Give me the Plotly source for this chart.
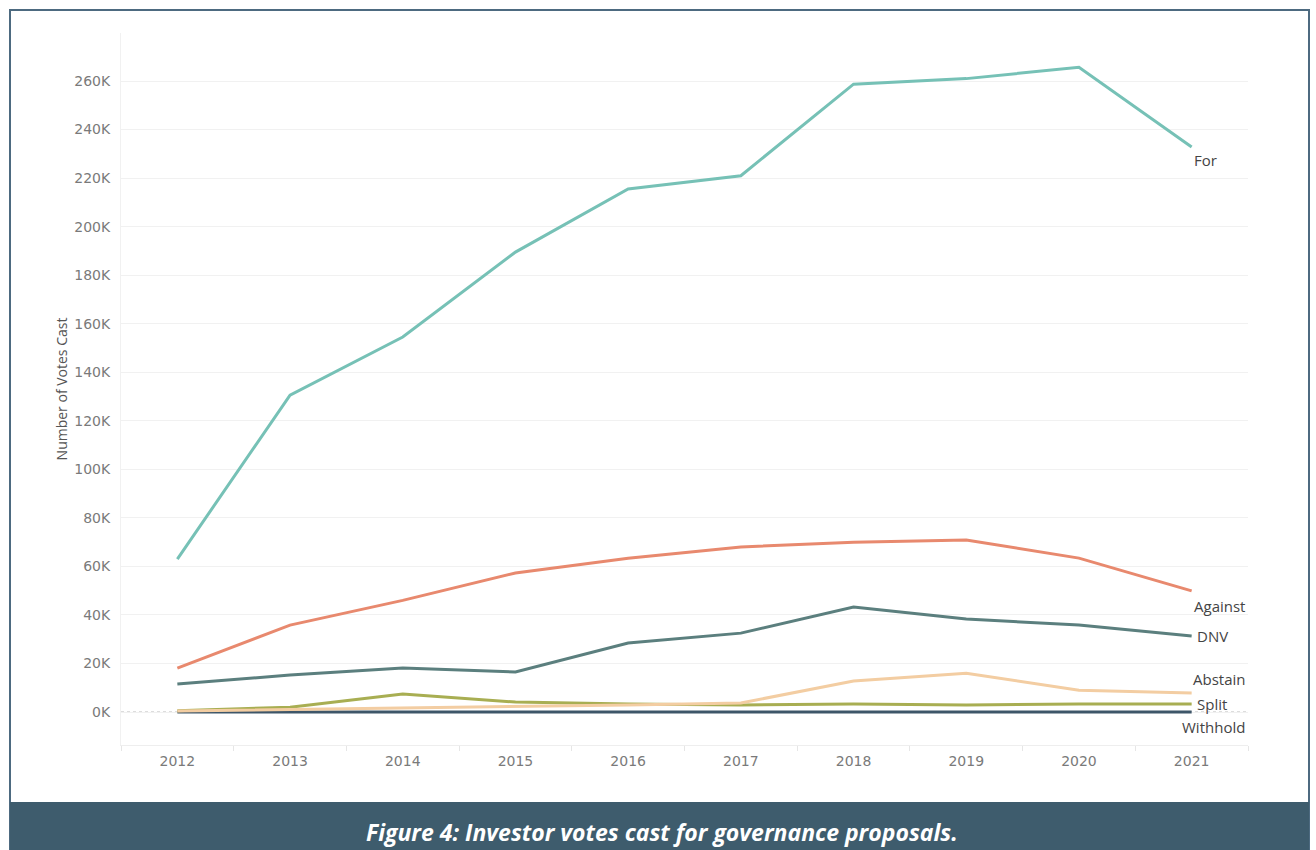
import plotly.graph_objects as go

# Votes cast on governance proposals, by vote type (thousands)
years = [2012, 2013, 2014, 2015, 2016, 2017, 2018, 2019, 2020, 2021]
votes_for = [63.0, 130.6, 154.5, 189.5, 215.5, 221.0, 258.7, 261.0, 265.7, 232.8]
votes_against = [18.1, 35.8, 46.0, 57.3, 63.4, 68.0, 70.0, 70.9, 63.4, 49.9]
votes_dnv = [11.5, 15.2, 18.1, 16.5, 28.4, 32.5, 43.3, 38.3, 35.8, 31.3]
votes_abstain = [0.4, 1.0, 1.5, 2.0, 2.9, 3.7, 12.8, 16.0, 9.0, 7.8]
votes_split = [0.5, 2.0, 7.4, 4.1, 3.3, 2.9, 3.3, 2.9, 3.3, 3.3]
votes_withhold = [0.0, 0.0, 0.0, 0.0, 0.0, 0.0, 0.0, 0.0, 0.0, 0.0]

y_ticks = list(range(0, 261, 20))
y_tick_labels = [f"{v}K" for v in y_ticks]
caption = "Figure 4: Investor votes cast for governance proposals."

W, H = 1316, 850
L, R, T, B = 121, 68, 33, 105
PW, PH = W - L - R, H - T - B

TICK_FONT = dict(family="DejaVu Sans, Verdana, sans-serif", size=14, color="#7a7a7a")
LABEL_FONT = dict(family="Open Sans, Arial, sans-serif", size=15, color="#444")


def px(x):
    return (x - L) / PW


def py(y):
    return (H - B - y) / PH


series = [
    ("Withhold", votes_withhold, "#3e5669", dict(xanchor="right", xshift=55, yshift=-15)),
    ("Split", votes_split, "#a8ae52", dict(xanchor="left", xshift=3, yshift=0)),
    ("Abstain", votes_abstain, "#f3cda2", dict(xanchor="right", xshift=55, yshift=14)),
    ("DNV", votes_dnv, "#5b7f7e", dict(xanchor="left", xshift=3, yshift=0)),
    ("Against", votes_against, "#e8896e", dict(xanchor="right", xshift=55, yshift=-15)),
    ("For", votes_for, "#76c1b6", dict(xanchor="left", xshift=0, yshift=-13)),
]

fig = go.Figure()
annotations = []
for name, vals, color, pos in series:
    fig.add_trace(go.Scatter(
        x=years, y=vals, mode="lines", name=name,
        line=dict(color=color, width=3),
        hovertemplate="%{x}: %{y:.1f}K<extra>" + name + "</extra>",
    ))
    annotations.append(dict(
        x=years[-1], y=vals[-1], xref="x", yref="y", text=name,
        showarrow=False, yanchor="middle", font=LABEL_FONT, **pos,
    ))

annotations.append(dict(
    x=0.5 * (px(10) + px(1309)) + 3 / PW, y=py(832),
    xref="paper", yref="paper", text="<b><i>" + caption + "</i></b>",
    showarrow=False, xanchor="center", yanchor="middle",
    font=dict(family="Open Sans, Arial, sans-serif", size=23, color="white"),
))

shapes = [
    # outer frame
    dict(type="rect", xref="paper", yref="paper",
         x0=px(10), x1=px(1309), y0=py(850), y1=py(10),
         line=dict(color="#4d6a80", width=2), fillcolor="rgba(0,0,0,0)", layer="below"),
    # caption band
    dict(type="rect", xref="paper", yref="paper",
         x0=px(10), x1=px(1309), y0=py(851), y1=py(802),
         line=dict(width=0), fillcolor="#3e5c6d", layer="above"),
    # zero reference line
    dict(type="line", xref="paper", yref="y", x0=0, x1=1, y0=0, y1=0,
         line=dict(color="#bbbbbb", width=1, dash="dot"), layer="below"),
]

fig.update_layout(
    width=W, height=H,
    margin=dict(l=L, r=R, t=T, b=B),
    paper_bgcolor="white", plot_bgcolor="white",
    showlegend=False,
    annotations=annotations,
    shapes=shapes,
    font=dict(family="Open Sans, Arial, sans-serif", color="#777"),
)

fig.update_xaxes(
    range=[2011.5, 2021.5],
    tickvals=years, ticktext=[str(y) for y in years],
    ticks="outside", ticklen=3, tickcolor="rgba(0,0,0,0)",
    showgrid=False, zeroline=False,
    showline=True, linecolor="#eeeeee", linewidth=1,
    tickfont=TICK_FONT,
    minor=dict(tick0=2011.5, dtick=1, ticks="outside", ticklen=5,
               tickcolor="#e6e6e6", showgrid=False),
)

fig.update_yaxes(
    range=[-13.6, 279.8],
    tickvals=y_ticks, ticktext=y_tick_labels,
    ticks="outside", ticklen=7, tickcolor="rgba(0,0,0,0)",
    showgrid=True, gridcolor="#f1f1f1", gridwidth=1,
    zeroline=False, showline=True, linecolor="#f1f1f1", linewidth=1,
    tickfont=TICK_FONT,
    title=dict(text="Number of Votes Cast", standoff=3,
               font=dict(size=14, color="#555")),
)

fig.write_html("out.html")
